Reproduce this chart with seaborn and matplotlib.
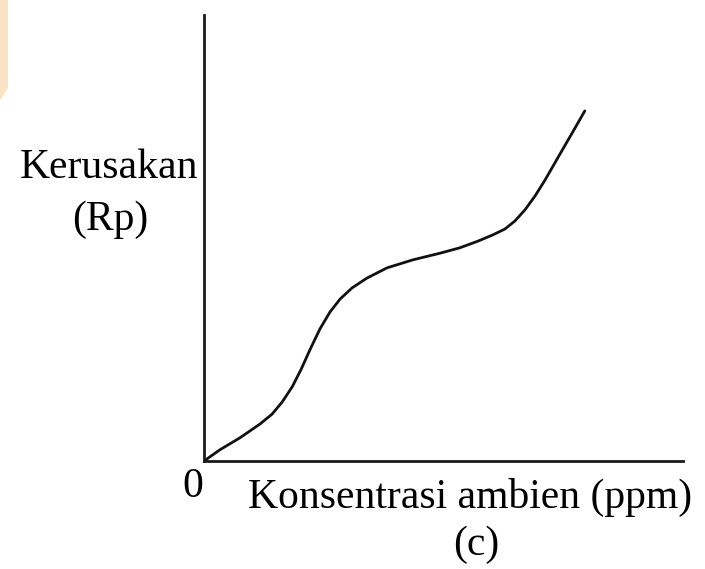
import matplotlib
matplotlib.use("Agg")
import matplotlib.pyplot as plt
import seaborn as sns
import pandas as pd
from matplotlib.patches import Polygon

# Data (arbitrary units, 0..10 on both axes)
konsentrasi = [0.0, 0.33, 0.75, 1.17, 1.42, 1.63, 1.84, 2.03, 2.21, 2.42,
               2.63, 2.84, 3.09, 3.40, 3.82, 4.36, 4.93, 5.34, 5.72, 6.03,
               6.28, 6.49, 6.70, 6.91, 7.12, 7.43, 7.70, 7.95]
kerusakan = [0.0, 0.25, 0.52, 0.83, 1.05, 1.32, 1.66, 2.06, 2.49, 2.96,
             3.34, 3.63, 3.88, 4.10, 4.33, 4.51, 4.66, 4.78, 4.93, 5.07,
             5.20, 5.38, 5.63, 5.94, 6.30, 6.88, 7.38, 7.85]

x_label = "Konsentrasi ambien (ppm)"
origin_label = "0"
panel_label = "(c)"

df = pd.DataFrame({"x": konsentrasi, "y": kerusakan})

sns.set_style("white")
plt.rcParams["font.family"] = ["Liberation Serif", "DejaVu Serif"]

W, H = 705, 569
fig = plt.figure(figsize=(W / 100, H / 100), dpi=100)
ax = fig.add_axes([204 / W, 1 - 461 / H, (683 - 204) / W, (461 - 15) / H])

sns.lineplot(data=df, x="x", y="y", ax=ax, color="#111111", linewidth=2.0,
             sort=False, estimator=None, solid_joinstyle="round",
             solid_capstyle="round")
ax.set_xlim(0, 10)
ax.set_ylim(0, 10)
ax.set_xticks([])
ax.set_yticks([])
ax.set_xlabel("")
ax.set_ylabel("")
for s in ["top", "right"]:
    ax.spines[s].set_visible(False)
for s in ["left", "bottom"]:
    ax.spines[s].set_color("#1a1a1a")
    ax.spines[s].set_linewidth(2.0)

fs = 30
fig.text(109 / W, 1 - 168 / H, "Kerusakan", ha="center", va="center", fontsize=fs,
         color="black")
fig.text(110 / W, 1 - 220 / H, "(Rp)", ha="center", va="center", fontsize=fs,
         color="black")
fig.text(193 / W, 1 - 487 / H, origin_label, ha="center", va="center", fontsize=fs,
         color="black")
fig.text(470 / W, 1 - 497 / H, x_label, ha="center", va="center", fontsize=fs,
         color="black")
fig.text(476 / W, 1 - 545 / H, panel_label, ha="center", va="center", fontsize=fs,
         color="black")

# faded watermark corner
poly = Polygon([(0, 1), (8 / W, 1), (8 / W, 1 - 88 / H), (0, 1 - 100 / H)],
               closed=True, transform=fig.transFigure, facecolor="#F9E3C6",
               edgecolor="none")
fig.patches.append(poly)

fig.savefig("out.png", dpi=100)
